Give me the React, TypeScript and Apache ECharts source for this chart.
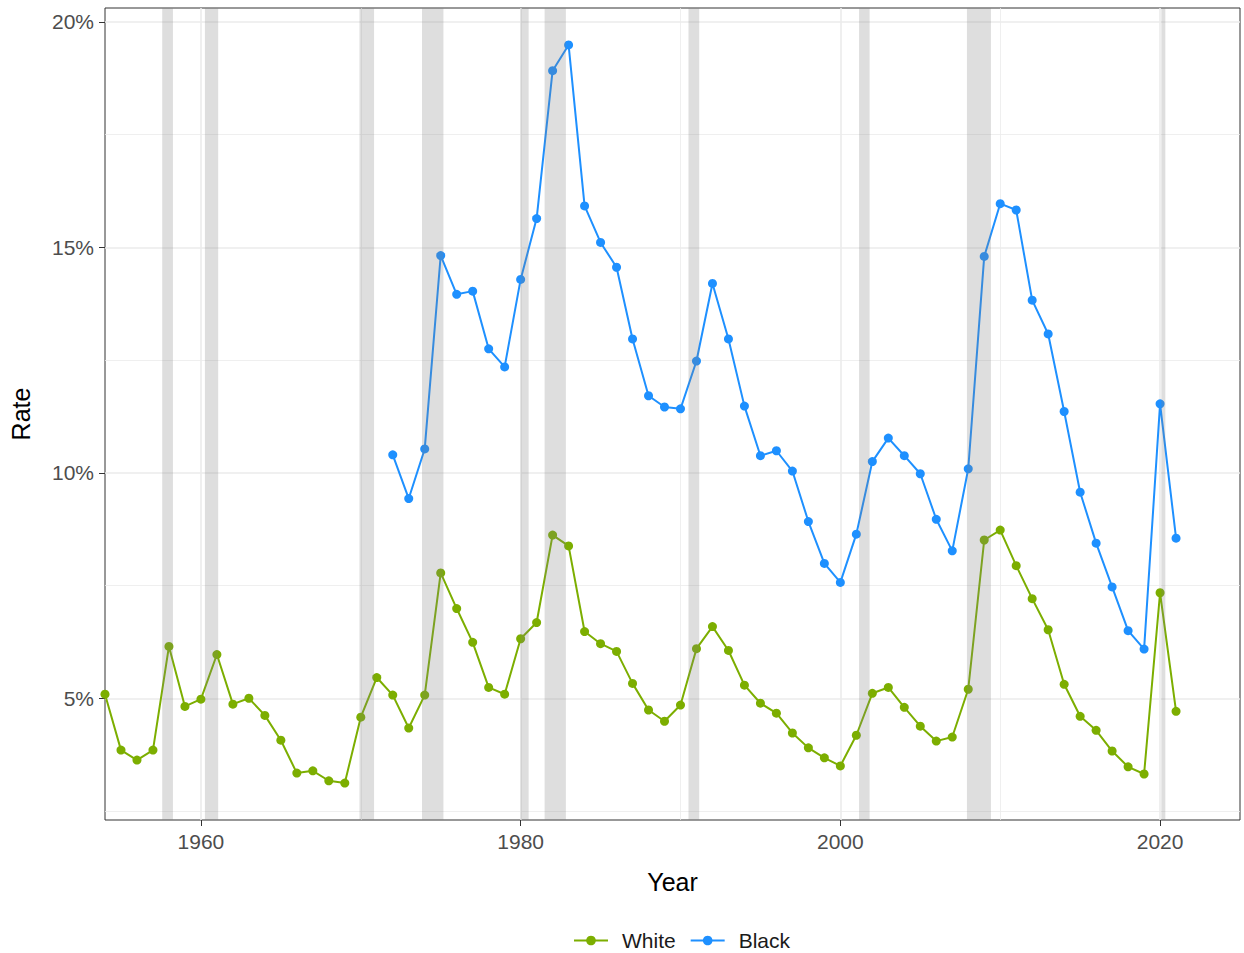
import React, { useEffect, useRef } from "react";
import * as echarts from "echarts";

const whiteYears = [1954, 1955, 1956, 1957, 1958, 1959, 1960, 1961, 1962, 1963, 1964, 1965, 1966, 1967, 1968, 1969, 1970, 1971, 1972, 1973, 1974, 1975, 1976, 1977, 1978, 1979, 1980, 1981, 1982, 1983, 1984, 1985, 1986, 1987, 1988, 1989, 1990, 1991, 1992, 1993, 1994, 1995, 1996, 1997, 1998, 1999, 2000, 2001, 2002, 2003, 2004, 2005, 2006, 2007, 2008, 2009, 2010, 2011, 2012, 2013, 2014, 2015, 2016, 2017, 2018, 2019, 2020, 2021];
const whiteRate = [5.09, 3.85, 3.63, 3.85, 6.15, 4.82, 4.98, 5.97, 4.87, 5.0, 4.62, 4.07, 3.34, 3.39, 3.17, 3.12, 4.58, 5.46, 5.07, 4.34, 5.07, 7.78, 6.99, 6.24, 5.24, 5.09, 6.32, 6.68, 8.62, 8.38, 6.48, 6.21, 6.04, 5.33, 4.74, 4.49, 4.85, 6.1, 6.59, 6.06, 5.29, 4.89, 4.67, 4.23, 3.9, 3.68, 3.5, 4.18, 5.11, 5.24, 4.8, 4.38, 4.05, 4.14, 5.2, 8.51, 8.73, 7.94, 7.21, 6.52, 5.31, 4.6, 4.29, 3.83, 3.48, 3.32, 7.34, 4.71];

const blackYears = [1972, 1973, 1974, 1975, 1976, 1977, 1978, 1979, 1980, 1981, 1982, 1983, 1984, 1985, 1986, 1987, 1988, 1989, 1990, 1991, 1992, 1993, 1994, 1995, 1996, 1997, 1998, 1999, 2000, 2001, 2002, 2003, 2004, 2005, 2006, 2007, 2008, 2009, 2010, 2011, 2012, 2013, 2014, 2015, 2016, 2017, 2018, 2019, 2020, 2021];
const blackRate = [10.4, 9.43, 10.53, 14.82, 13.96, 14.03, 12.75, 12.35, 14.29, 15.64, 18.92, 19.49, 15.92, 15.11, 14.56, 12.97, 11.71, 11.46, 11.42, 12.48, 14.2, 12.97, 11.48, 10.38, 10.49, 10.04, 8.92, 7.99, 7.57, 8.64, 10.25, 10.77, 10.38, 9.98, 8.97, 8.27, 10.09, 14.8, 15.97, 15.83, 13.83, 13.08, 11.36, 9.57, 8.44, 7.47, 6.5, 6.09, 11.53, 8.55];

const recessionStart = [1957.58, 1960.25, 1969.92, 1973.83, 1980.0, 1981.5, 1990.5, 2001.17, 2007.92, 2020.08];
const recessionEnd = [1958.25, 1961.08, 1970.83, 1975.17, 1980.5, 1982.83, 1991.17, 2001.83, 2009.42, 2020.33];

const xTicks = [1960, 1980, 2000, 2020];
const xMinor = [1970, 1990, 2010];
const yTicks = [5, 10, 15, 20];
const yMinor = [2.5, 7.5, 12.5, 17.5];

const FONT = "'Liberation Sans', Arial, Helvetica, sans-serif";

export default function App() {
  const ref = useRef<HTMLDivElement>(null);
  useEffect(() => {
    if (!ref.current) return;
    const chart = echarts.init(ref.current, null, { renderer: "svg" });
    const gridLine = (arr: number[], axis: "xAxis" | "yAxis", width: number) =>
      arr.map((v) => ({ [axis]: v, lineStyle: { color: "#ebebeb", width, type: "solid" } }));
    chart.setOption({
      animation: false,
      textStyle: { fontFamily: FONT },
      grid: {
        left: 105,
        right: 4,
        top: 8,
        bottom: 133,
        show: true,
        borderColor: "#333333",
        borderWidth: 1,
        backgroundColor: "transparent",
      },
      legend: {
        bottom: -3,
        left: 568,
        itemWidth: 34,
        itemHeight: 12,
        itemGap: 14,
        textStyle: { fontSize: 21, color: "#1a1a1a", fontFamily: FONT, padding: [0, 0, 0, 9] },
        data: ["White", "Black"],
      },
      xAxis: {
        type: "value",
        min: 1954,
        max: 2025,
        name: "Year",
        nameLocation: "middle",
        nameGap: 49,
        nameTextStyle: { fontSize: 25, color: "#000", fontFamily: FONT },
        axisLine: { show: false },
        axisTick: { show: true, length: 6, lineStyle: { color: "#333" }, customValues: xTicks },
        axisLabel: {
          customValues: xTicks,
          fontSize: 21,
          color: "#4d4d4d",
          margin: 11,
          formatter: (v: number) => String(v),
        },
        splitLine: { show: false },
      },
      yAxis: {
        type: "value",
        min: 2.3,
        max: 20.31,
        name: "Rate",
        nameLocation: "middle",
        nameGap: 72,
        nameTextStyle: { fontSize: 25, color: "#000", fontFamily: FONT },
        axisLine: { show: false },
        axisTick: { show: true, length: 6, lineStyle: { color: "#333" }, customValues: yTicks },
        axisLabel: {
          customValues: yTicks,
          fontSize: 21,
          color: "#4d4d4d",
          margin: 11,
          formatter: (v: number) => `${v}%`,
        },
        splitLine: { show: false },
      },
      series: [
        {
          name: "grid",
          type: "line",
          data: [],
          z: 0,
          silent: true,
          markLine: {
            silent: true,
            z: 0,
            symbol: "none",
            label: { show: false },
            data: [
              ...gridLine(yMinor, "yAxis", 0.8),
              ...gridLine(xMinor, "xAxis", 0.8),
              ...gridLine(yTicks, "yAxis", 1.6),
              ...gridLine(xTicks, "xAxis", 1.6),
            ],
          },
        },
        {
          name: "White",
          type: "line",
          z: 2,
          data: whiteYears.map((y, i) => [y, whiteRate[i]]),
          color: "#7CAE00",
          symbol: "circle",
          symbolSize: 9,
          lineStyle: { width: 2 },
          itemStyle: { color: "#7CAE00" },
        },
        {
          name: "Black",
          type: "line",
          z: 2,
          data: blackYears.map((y, i) => [y, blackRate[i]]),
          color: "#1E90FF",
          symbol: "circle",
          symbolSize: 9,
          lineStyle: { width: 2 },
          itemStyle: { color: "#1E90FF" },
        },
        {
          name: "recessions",
          type: "line",
          data: [],
          z: 10,
          silent: true,
          markArea: {
            silent: true,
            z: 10,
            itemStyle: { color: "rgba(128,128,128,0.26)" },
            data: recessionStart.map((s, i) => [{ xAxis: s }, { xAxis: recessionEnd[i] }]),
          },
        },
      ],
    });
    return () => chart.dispose();
  }, []);
  return (
    <div
      ref={ref}
      style={{ position: "fixed", left: 0, top: 0, width: 1244, height: 953, background: "#fff" }}
    />
  );
}
